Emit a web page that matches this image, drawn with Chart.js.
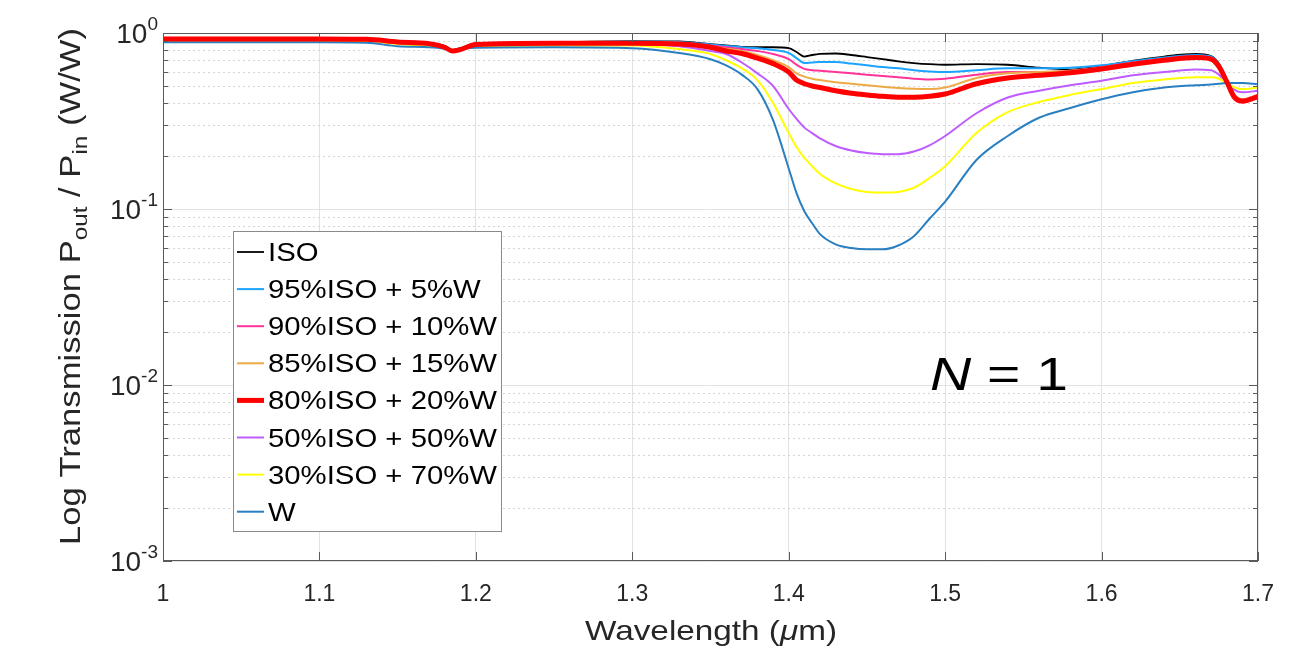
<!DOCTYPE html>
<html>
<head>
<meta charset="utf-8">
<script src="https://cdn.jsdelivr.net/npm/chart.js@4.4.1/dist/chart.umd.min.js"></script>
<style>
html,body{margin:0;padding:0;background:#fff;}
#wrap{position:relative;width:1307px;height:650px;}
</style>
</head>
<body>
<div id="wrap"><canvas id="c" width="1307" height="650"></canvas></div>
<script>
// ---- data ----
const wavelengths = [1.00,1.05,1.10,1.13,1.15,1.17,1.18,1.185,1.19,1.20,1.25,1.30,1.33,1.35,1.36,1.37,1.38,1.39,1.40,1.405,1.41,1.415,1.42,1.43,1.44,1.45,1.46,1.47,1.48,1.49,1.50,1.52,1.54,1.56,1.58,1.60,1.62,1.64,1.66,1.67,1.675,1.68,1.685,1.69,1.70];

const seriesISO = [0.93,0.93,0.93,0.925,0.895,0.875,0.845,0.80,0.82,0.87,0.885,0.90,0.895,0.865,0.85,0.835,0.83,0.83,0.82,0.78,0.735,0.75,0.76,0.765,0.75,0.73,0.71,0.69,0.675,0.665,0.66,0.665,0.66,0.635,0.62,0.65,0.695,0.735,0.76,0.74,0.67,0.54,0.43,0.405,0.43];
const series95 = [0.925,0.925,0.925,0.92,0.89,0.87,0.84,0.80,0.815,0.865,0.88,0.895,0.89,0.86,0.845,0.83,0.82,0.80,0.77,0.72,0.675,0.68,0.685,0.685,0.67,0.655,0.64,0.63,0.615,0.605,0.60,0.615,0.63,0.63,0.635,0.655,0.69,0.725,0.75,0.735,0.665,0.54,0.44,0.415,0.44];
const series90 = [0.925,0.925,0.925,0.92,0.89,0.87,0.84,0.80,0.815,0.865,0.88,0.89,0.88,0.85,0.83,0.81,0.79,0.76,0.71,0.66,0.625,0.615,0.61,0.60,0.59,0.58,0.57,0.56,0.55,0.545,0.55,0.58,0.60,0.60,0.61,0.64,0.68,0.715,0.74,0.725,0.66,0.54,0.445,0.42,0.445];
const series85 = [0.925,0.925,0.925,0.92,0.89,0.87,0.835,0.795,0.81,0.865,0.875,0.885,0.875,0.84,0.815,0.79,0.75,0.70,0.64,0.59,0.565,0.55,0.54,0.525,0.515,0.505,0.495,0.487,0.482,0.48,0.49,0.555,0.59,0.60,0.61,0.635,0.675,0.71,0.735,0.72,0.655,0.54,0.445,0.42,0.445];
const series80 = [0.925,0.925,0.925,0.92,0.89,0.87,0.83,0.79,0.805,0.86,0.875,0.875,0.865,0.83,0.79,0.765,0.72,0.67,0.60,0.54,0.515,0.50,0.49,0.47,0.455,0.445,0.437,0.432,0.432,0.437,0.45,0.515,0.555,0.575,0.595,0.625,0.665,0.70,0.725,0.71,0.645,0.53,0.43,0.41,0.435];
const series50 = [0.915,0.915,0.915,0.91,0.88,0.86,0.83,0.795,0.805,0.85,0.86,0.87,0.84,0.79,0.76,0.68,0.59,0.50,0.37,0.325,0.29,0.27,0.252,0.228,0.215,0.208,0.205,0.205,0.212,0.23,0.26,0.35,0.43,0.47,0.505,0.535,0.575,0.60,0.62,0.615,0.58,0.525,0.475,0.46,0.47];
const series30 = [0.905,0.905,0.905,0.90,0.865,0.845,0.825,0.80,0.805,0.84,0.85,0.85,0.81,0.76,0.70,0.63,0.54,0.40,0.27,0.225,0.195,0.175,0.158,0.14,0.13,0.125,0.124,0.125,0.132,0.15,0.175,0.27,0.355,0.405,0.445,0.48,0.52,0.545,0.56,0.56,0.55,0.52,0.49,0.48,0.49];
const seriesW = [0.885,0.885,0.885,0.88,0.84,0.83,0.815,0.80,0.81,0.825,0.83,0.82,0.77,0.71,0.655,0.58,0.48,0.32,0.17,0.123,0.097,0.083,0.072,0.063,0.06,0.059,0.059,0.062,0.07,0.088,0.11,0.19,0.26,0.33,0.375,0.42,0.46,0.49,0.505,0.51,0.515,0.52,0.52,0.52,0.51];

const seriesLabels = ['ISO','95%ISO + 5%W','90%ISO + 10%W','85%ISO + 15%W','80%ISO + 20%W','50%ISO + 50%W','30%ISO + 70%W','W'];
const seriesValues = [seriesISO, series95, series90, series85, series80, series50, series30, seriesW];

const xTickValues = [1,1.1,1.2,1.3,1.4,1.5,1.6,1.7];
const xTickLabels = ['1','1.1','1.2','1.3','1.4','1.5','1.6','1.7'];
const yTickValues = [1,0.1,0.01,0.001];
const yTickBases = ['10','10','10','10'];
const yTickExponents = ['0','-1','-2','-3'];

// ---- styles ----
const seriesColors = ['#000000','#1aa3ff','#ff3399','#edaa45','#ff0000','#bf5cff','#ffff00','#2a7fc0'];
const seriesWidths = [1.8,2,2,2,5,2,2,2];
const seriesOrder  = [7,6,5,4,0,3,2,1];
const FONT = "'Liberation Sans', Arial, sans-serif";
const TXT = '#262626';

const datasets = seriesLabels.map((lab, i) => ({
  label: lab,
  data: wavelengths.map((w, j) => ({x: w, y: seriesValues[i][j]})),
  borderColor: seriesColors[i],
  backgroundColor: seriesColors[i],
  borderWidth: seriesWidths[i],
  pointRadius: 0,
  fill: false,
  cubicInterpolationMode: 'monotone',
  order: seriesOrder[i]
}));

function isDecade(v){ const l = Math.log10(v); return Math.abs(l - Math.round(l)) < 1e-6; }

function drawStretched(ctx, parts, x, y, targetW){
  // parts: [{t, font, dy}]
  let nat = 0;
  parts.forEach(p => { ctx.font = p.font; p.w = ctx.measureText(p.t).width; nat += p.w; });
  const sx = targetW ? targetW / nat : 1;
  ctx.save();
  ctx.translate(x, y);
  ctx.scale(sx, 1);
  let cx = 0;
  parts.forEach(p => { ctx.font = p.font; ctx.fillText(p.t, cx, p.dy || 0); cx += p.w; });
  ctx.restore();
  return nat * sx;
}

const decor = {
  id: 'decor',
  beforeDatasetsDraw(chart){
    const ctx = chart.ctx, a = chart.chartArea, ys = chart.scales.y;
    ctx.save();
    ctx.strokeStyle = '#d6d6d6';
    ctx.lineWidth = 1;
    ctx.setLineDash([2,3]);
    for (let e = -3; e < 0; e++) {
      for (let m = 2; m <= 9; m++) {
        const py = Math.round(ys.getPixelForValue(m * Math.pow(10, e))) + 0.5;
        ctx.beginPath(); ctx.moveTo(a.left, py); ctx.lineTo(a.right, py); ctx.stroke();
      }
    }
    ctx.restore();
  },
  afterDatasetsDraw(chart){
    const ctx = chart.ctx, a = chart.chartArea, xs = chart.scales.x, ys = chart.scales.y;
    ctx.save();
    ctx.strokeStyle = '#5a5a5a';
    ctx.lineWidth = 1;
    ctx.setLineDash([]);
    ctx.strokeRect(a.left + 0.5, a.top + 0.5, a.right - a.left - 1, a.bottom - a.top - 1);
    ctx.beginPath();
    xTickValues.forEach(v => {
      const px = Math.round(xs.getPixelForValue(v)) + 0.5;
      ctx.moveTo(px, a.bottom); ctx.lineTo(px, a.bottom - 9);
      ctx.moveTo(px, a.top); ctx.lineTo(px, a.top + 9);
    });
    for (let e = -3; e <= 0; e++) {
      for (let m = 1; m <= 9; m++) {
        const v = m * Math.pow(10, e);
        if (v > 1.0000001) break;
        const py = Math.round(ys.getPixelForValue(v)) + 0.5;
        const len = (m === 1) ? 9 : 5;
        ctx.moveTo(a.left, py); ctx.lineTo(a.left + len, py);
        ctx.moveTo(a.right, py); ctx.lineTo(a.right - len, py);
      }
    }
    ctx.stroke();
    ctx.restore();
  },
  afterDraw(chart){
    const ctx = chart.ctx, a = chart.chartArea, xs = chart.scales.x, ys = chart.scales.y;
    ctx.save();
    ctx.fillStyle = TXT;
    // x tick labels
    ctx.font = '23px ' + FONT;
    ctx.textAlign = 'center';
    ctx.textBaseline = 'alphabetic';
    xTickValues.forEach((v, i) => {
      ctx.fillText(xTickLabels[i], xs.getPixelForValue(v), 601);
    });
    // y tick labels 10^n
    ctx.textAlign = 'left';
    yTickValues.forEach((v, i) => {
      const py = ys.getPixelForValue(v);
      ctx.font = '28px ' + FONT;
      const wb = ctx.measureText(yTickBases[i]).width;
      ctx.font = '19px ' + FONT;
      const we = ctx.measureText(yTickExponents[i]).width;
      const x0 = 158 - wb - we;
      ctx.font = '28px ' + FONT;
      ctx.fillText(yTickBases[i], x0, py + 10);
      ctx.font = '19px ' + FONT;
      ctx.fillText(yTickExponents[i], x0 + wb, py - 3);
    });
    // x title
    const xParts = [
      {t: 'Wavelength (', font: '28px ' + FONT},
      {t: 'μ', font: 'italic 28px ' + FONT},
      {t: 'm)', font: '28px ' + FONT}
    ];
    const xw = 252;
    drawStretched(ctx, xParts, 711 - xw / 2, 640, xw);
    // y title (rotated)
    ctx.save();
    ctx.translate(80, 545);
    ctx.rotate(-Math.PI / 2);
    drawStretched(ctx, [
      {t: 'Log Transmission P', font: '30px ' + FONT},
      {t: 'out', font: '21px ' + FONT, dy: 7},
      {t: ' / P', font: '30px ' + FONT},
      {t: 'in', font: '21px ' + FONT, dy: 7},
      {t: ' (W/W)', font: '30px ' + FONT}
    ], 0, 0, 517);
    ctx.restore();
    // N = 1
    ctx.fillStyle = '#000';
    drawStretched(ctx, [
      {t: 'N', font: 'italic 46px ' + FONT},
      {t: ' = 1', font: '46px ' + FONT}
    ], 930, 390, 138);
    // legend
    const L = {x: 233, y: 231, w: 268, h: 300};
    ctx.fillStyle = '#fff';
    ctx.fillRect(L.x, L.y, L.w, L.h);
    ctx.strokeStyle = '#8a8a8a';
    ctx.lineWidth = 1;
    ctx.strokeRect(L.x + 0.5, L.y + 0.5, L.w, L.h);
    ctx.font = '25px ' + FONT;
    const natW = ctx.measureText('30%ISO + 70%W').width;
    const sx = 229 / natW;
    seriesLabels.forEach((lab, i) => {
      const cy = 252 + i * 37.1;
      ctx.strokeStyle = seriesColors[i];
      ctx.lineWidth = seriesWidths[i];
      ctx.beginPath(); ctx.moveTo(237, cy); ctx.lineTo(264, cy); ctx.stroke();
      ctx.fillStyle = '#000';
      ctx.save();
      ctx.translate(268, cy + 9);
      ctx.scale(sx, 1);
      ctx.textBaseline = 'alphabetic';
      ctx.fillText(lab, 0, 0);
      ctx.restore();
    });
    ctx.restore();
  }
};

new Chart(document.getElementById('c'), {
  type: 'line',
  data: { datasets },
  options: {
    responsive: false,
    animation: false,
    devicePixelRatio: 1,
    layout: { padding: { top: 33, right: 49, left: 0, bottom: 0 } },
    plugins: { legend: { display: false }, tooltip: { enabled: false } },
    scales: {
      x: {
        type: 'linear', min: 1, max: 1.7,
        ticks: { display: false, stepSize: 0.1 },
        grid: { color: '#e2e2e2', lineWidth: 1, drawTicks: false },
        border: { display: false },
        afterFit(s){ s.height = 89; }
      },
      y: {
        type: 'logarithmic', min: 0.001, max: 1,
        ticks: { display: false },
        grid: {
          color: c => (c.tick && isDecade(c.tick.value)) ? '#e2e2e2' : 'rgba(0,0,0,0)',
          lineWidth: 1, drawTicks: false
        },
        border: { display: false },
        afterFit(s){ s.width = 163; }
      }
    }
  },
  plugins: [decor]
});
</script>
</body>
</html>
